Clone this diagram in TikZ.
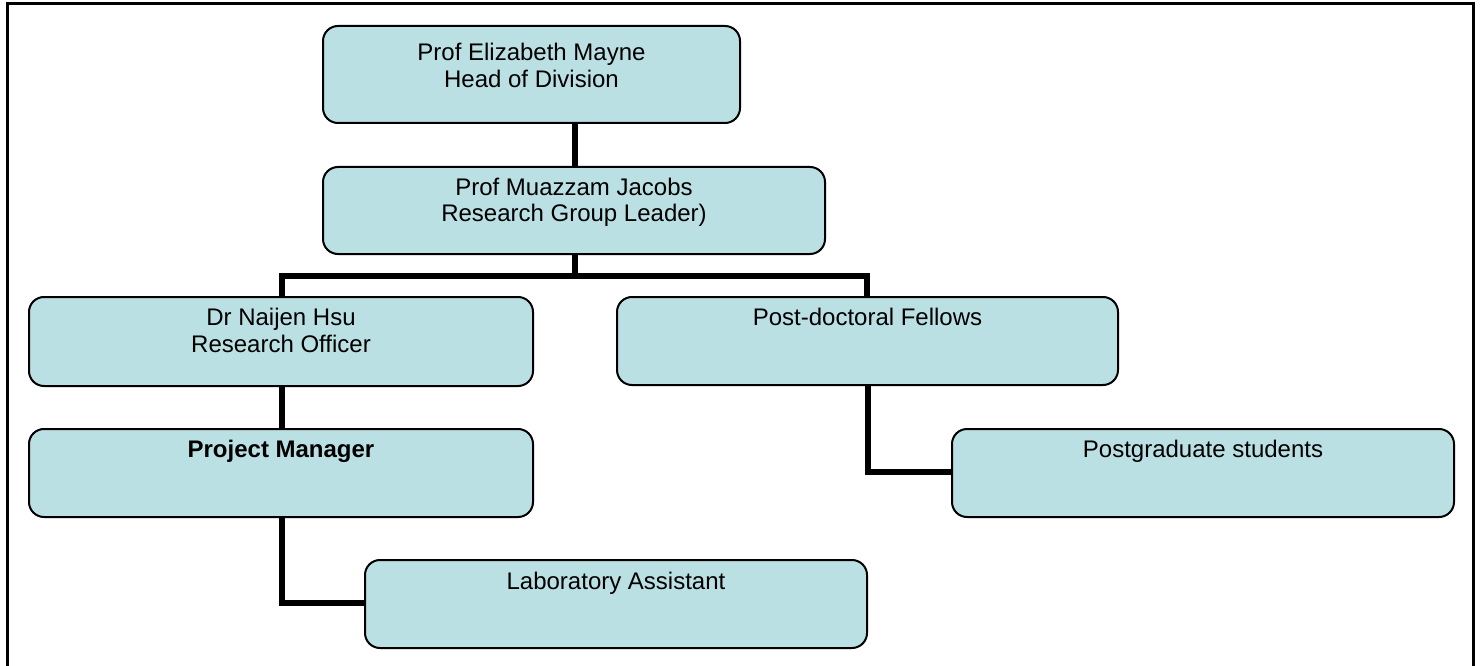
\documentclass[tikz,border=0pt]{standalone}
\usepackage{fontspec}
\setmainfont{Liberation Sans}
\usetikzlibrary{calc}
\pgfdeclarelayer{background}
\pgfsetlayers{background,main}
\definecolor{boxfill}{RGB}{187,224,227}
\tikzset{
  orgbox/.style={draw=black, line width=2pt, fill=boxfill, rounded corners=15pt, inner sep=0pt, outer sep=0pt},
  orgtext/.style={anchor=base, font=\fontsize{24}{27}\selectfont, inner sep=0pt},
  link/.style={line width=6pt, line cap=rect},
  elbow/.style={line width=6pt},
}
\begin{document}
\begin{tikzpicture}[x=1pt, y=-1pt]
\useasboundingbox (0,0) rectangle (1481,666);
% outer frame (bottom edge lies below the picture)
\draw[line width=3pt] (7,700) -- (7,4) -- (1473,4) -- (1473,700);

% boxes
\node[orgbox, minimum width=417pt, minimum height=97pt] (head) at (531.5,74.5) {};
\node[orgbox, minimum width=502pt, minimum height=87pt] (leader) at (574,210.5) {};
\node[orgbox, minimum width=504pt, minimum height=89pt] (hsu) at (281,341.5) {};
\node[orgbox, minimum width=501pt, minimum height=88pt] (postdoc) at (867.5,341) {};
\node[orgbox, minimum width=504pt, minimum height=88pt] (pm) at (281,473) {};
\node[orgbox, minimum width=502pt, minimum height=88pt] (pg) at (1203,473) {};
\node[orgbox, minimum width=502pt, minimum height=88pt] (lab) at (616,604) {};

% connectors (behind the boxes)
\coordinate (busL) at (282,276);
\coordinate (busR) at (867,276);
\coordinate (busM) at (575,276);
\coordinate (pgturn) at (868,472);
\coordinate (labturn) at (282,603);
\begin{pgfonlayer}{background}
\draw[link] (head.center -| busM) -- (leader.center -| busM);
\draw[link] (leader.center -| busM) -- (busM);
\draw[link] (busL) -- (busR);
\draw[link] (busL) -- (hsu.center -| busL);
\draw[link] (busR) -- (postdoc.center -| busR);
\draw[link] (hsu.center -| busL) -- (pm.center -| busL);
\draw[elbow] (pm.center -| labturn) -- (labturn) -- (lab.center |- labturn);
\draw[elbow] (postdoc.center -| pgturn) -- (pgturn) -- (pg.center |- pgturn);
\end{pgfonlayer}

% texts
\node[orgtext] (t1) at (531.5,61) {Prof Elizabeth Mayne};
\node[orgtext] (t2) at (531.5,88) {Head of Division};
\node[orgtext] (t3) at (574,195) {Prof Muazzam Jacobs};
\node[orgtext] (t4) at (574,222) {Research Group Leader)};
\node[orgtext] (t5) at (281,325) {Dr Naijen Hsu};
\node[orgtext] (t6) at (281,352) {Research Officer};
\node[orgtext] (t7) at (867.5,325) {Post-doctoral Fellows};
\node[orgtext, font=\fontsize{24}{27}\selectfont\bfseries] (t8) at (281,457) {Project Manager};
\node[orgtext] (t9) at (1203,457) {Postgraduate students};
\node[orgtext] (t10) at (616,589) {Laboratory Assistant};
\end{tikzpicture}
\end{document}
